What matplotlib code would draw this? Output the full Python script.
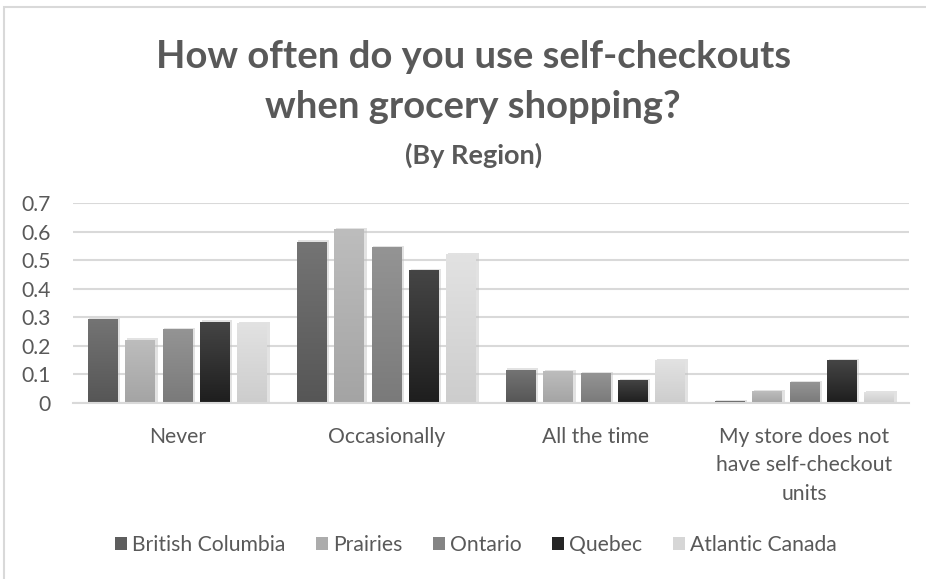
import numpy as np
import matplotlib
matplotlib.use("Agg")
import matplotlib.pyplot as plt
from matplotlib.patches import Rectangle
from matplotlib.colors import LinearSegmentedColormap

categories = ["Never", "Occasionally", "All the time",
              "My store does not\nhave self-checkout\nunits"]
regions = ["British Columbia", "Prairies", "Ontario", "Quebec", "Atlantic Canada"]

british_columbia = [0.295, 0.565, 0.117, 0.006]
prairies = [0.222, 0.610, 0.113, 0.041]
ontario = [0.259, 0.546, 0.105, 0.073]
quebec = [0.285, 0.465, 0.081, 0.150]
atlantic_canada = [0.281, 0.520, 0.150, 0.038]
series = [british_columbia, prairies, ontario, quebec, atlantic_canada]

y_ticks = [0, 0.1, 0.2, 0.3, 0.4, 0.5, 0.6, 0.7]
y_tick_labels = ["0", "0.1", "0.2", "0.3", "0.4", "0.5", "0.6", "0.7"]

# top / bottom shades of each series' gradient fill
shades = [("#747474", "#565656"),
          ("#bdbdbd", "#a4a4a4"),
          ("#949494", "#7a7a7a"),
          ("#454545", "#1e1e1e"),
          ("#e2e2e2", "#cdcdcd")]
legend_colors = ["#5e5e5e", "#acacac", "#848484", "#262626", "#d6d6d6"]

FONT = "Lato"
TEXT = "#595959"
LABEL_SIZE = 15.2

fig = plt.figure(figsize=(9.26, 5.79), dpi=100)
fig.patch.set_facecolor("white")

# outer chart frame
fig.add_artist(Rectangle((4 / 926, -0.01), 1.2, 1 - 7 / 579 + 0.01,
                         transform=fig.transFigure, fill=False,
                         edgecolor="#d9d9d9", linewidth=1.5))

ax = fig.add_axes([73 / 926, 1 - 403 / 579, 836 / 926, 200 / 579])
ax.set_xlim(-0.5, 3.5)
ax.set_ylim(0, 0.7)

pitch = 0.179
width = 0.143
offsets = (np.arange(len(regions)) - 2) * pitch
x = np.arange(len(categories))

for i, (vals, (top, bot)) in enumerate(zip(series, shades)):
    cmap = LinearSegmentedColormap.from_list(f"g{i}", [bot, top])
    bars = ax.bar(x + offsets[i], vals, width, color=legend_colors[i],
                  edgecolor="none", zorder=3, label=regions[i])
    for b in bars:
        bx, by = b.get_x(), b.get_y()
        bw, bh = b.get_width(), b.get_height()
        if bh <= 0:
            continue
        # soft drop shadow
        ax.add_patch(Rectangle((bx + 0.008, by), bw + 0.004, bh + 0.004,
                               facecolor="#bfbfbf", alpha=0.45,
                               edgecolor="none", zorder=2.5))
        grad = np.linspace(0, 1, 64).reshape(-1, 1)
        im = ax.imshow(grad, cmap=cmap, aspect="auto", origin="lower",
                       extent=(bx, bx + bw, by, by + bh), zorder=3.2)
        im.set_clip_path(b)
        b.set_alpha(0)

ax.set_xlim(-0.5, 3.5)
ax.set_ylim(0, 0.7)

ax.set_yticks(y_ticks)
ax.set_yticklabels(y_tick_labels)
ax.set_xticks(x)
ax.set_xticklabels(categories)
ax.grid(axis="y", color="#d9d9d9", linewidth=1.5, zorder=0)
ax.set_axisbelow(True)
for s in ["top", "right", "left"]:
    ax.spines[s].set_visible(False)
ax.spines["bottom"].set_color("#d9d9d9")
ax.spines["bottom"].set_linewidth(1.5)
ax.spines["bottom"].set_zorder(4)
ax.tick_params(axis="both", length=0, colors=TEXT, labelsize=LABEL_SIZE)
ax.tick_params(axis="y", pad=16)
ax.tick_params(axis="x", pad=17)
for lab in ax.get_xticklabels() + ax.get_yticklabels():
    lab.set_fontfamily(FONT)
    lab.set_color(TEXT)
    lab.set_linespacing(1.55)
for lab in ax.get_xticklabels():
    lab.set_verticalalignment("top")

fig.text(0.511, 1 - 57 / 579, "How often do you use self-checkouts",
         ha="center", va="center", fontsize=27.5, fontweight="bold",
         color=TEXT, family=FONT)
fig.text(0.511, 1 - 107 / 579, "when grocery shopping?",
         ha="center", va="center", fontsize=27.5, fontweight="bold",
         color=TEXT, family=FONT)
fig.text(0.511, 1 - 155 / 579, "(By Region)",
         ha="center", va="center", fontsize=19.5, fontweight="bold",
         color=TEXT, family=FONT)

handles = [Rectangle((0, 0), 1, 1, facecolor=c, edgecolor="none")
           for c in legend_colors]
leg = fig.legend(handles, regions, loc="center", ncol=5,
                 bbox_to_anchor=(0.514, 1 - 545 / 579), frameon=False,
                 handlelength=0.55, handleheight=0.55, handletextpad=0.25,
                 columnspacing=1.45, prop={"family": FONT, "size": LABEL_SIZE})
for t in leg.get_texts():
    t.set_color(TEXT)

fig.savefig("out.png", dpi=100, facecolor="white")
